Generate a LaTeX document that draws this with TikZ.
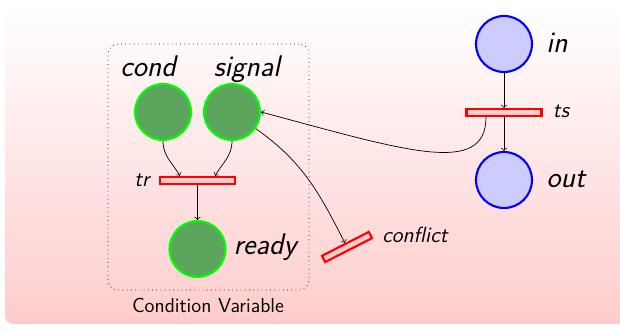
\documentclass[tikz,border=0pt]{standalone}
\usetikzlibrary{positioning,shapes.geometric}
\definecolor{placegreen}{RGB}{92,165,92}

\begin{document}
\begin{tikzpicture}[x=0.02cm, y=-0.02cm,
    greenplace/.style={circle, draw=green, line width=1.2pt, fill=placegreen, minimum size=1.12cm, inner sep=0pt},
    blueplace/.style={circle, draw=blue, line width=1.2pt, fill=blue!20, minimum size=1.12cm, inner sep=0pt},
    transbox/.style={rectangle, draw=red, line width=1.2pt, fill=red!20, minimum width=1.5cm, minimum height=0.14cm, inner sep=0pt},
    cvbox/.style={draw, dotted, rounded corners=0.2cm, minimum width=4.02cm, minimum height=4.92cm, inner sep=0pt},
    biglbl/.style={font=\sffamily\itshape\fontsize{17}{20}\selectfont, anchor=base, inner sep=0pt},
    smalllbl/.style={font=\sffamily\itshape\fontsize{12.5}{15}\selectfont, anchor=base, inner sep=0pt},
    cvlbl/.style={font=\sffamily\fontsize{11.5}{14}\selectfont, anchor=base, inner sep=0pt}
  ]
    \useasboundingbox (0,0) rectangle (620,331);
    \shade[top color=white, bottom color=red!20, rounded corners=0.16cm] (5,3) rectangle (640,324);

    \node[cvbox] (cvframe) at (208.5,167) {};
    \node[cvlbl] (cvname) at (208,313) {Condition Variable};

    \node[greenplace] (cond) at (163,112) {};
    \node[greenplace] (signal) at (232,112) {};
    \node[transbox] (tr) at (197.5,180.5) {};
    \node[greenplace] (ready) at (197.5,249) {};
    \node[transbox, minimum width=1.05cm, rotate=27] (conflict) at (347,247) {};

    \node[blueplace] (in) at (504,44) {};
    \node[transbox] (ts) at (504,112.5) {};
    \node[blueplace] (out) at (504,180) {};

    \node[biglbl] (condlbl) at (148,77) {cond};
    \node[biglbl] (signallbl) at (247,77) {signal};
    \node[smalllbl] (trlbl) at (142,187) {tr};
    \node[biglbl] (readylbl) at (265,255) {ready};
    \node[smalllbl] (conflictlbl) at (415,243) {conflict};
    \node[biglbl] (inlbl) at (557,53) {in};
    \node[smalllbl] (tslbl) at (561,118) {ts};
    \node[biglbl] (outlbl) at (566,188) {out};

    \draw[->] (cond.south) to[out=-90, in=120] ([xshift=-0.35cm]tr.north);
    \draw[->] (signal.south) to[out=-90, in=60] ([xshift=0.35cm]tr.north);
    \draw[->] (tr) -- (ready);
    \draw[->] (in) -- (ts);
    \draw[->] (ts) -- (out);
    \draw[->] ([xshift=-0.36cm]ts.south) to[out=-90, in=-15, out distance=1.2cm, in distance=3cm] (signal.east);
    \draw[->] (signal.-35) to[out=-35, in=117] (conflict.north);
  \end{tikzpicture}
\end{document}
